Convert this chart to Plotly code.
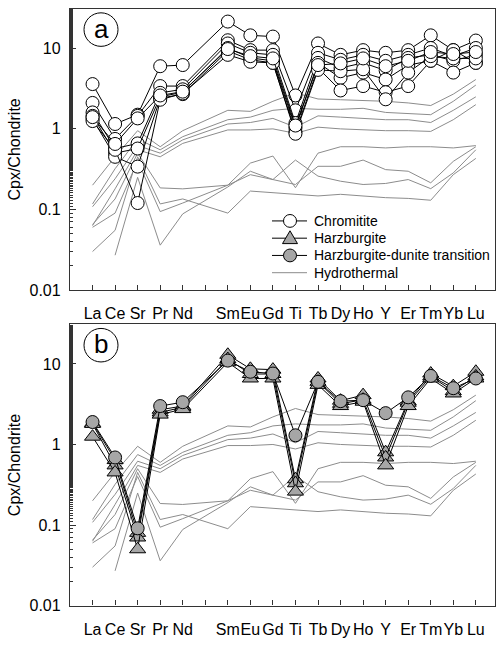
import plotly.graph_objects as go

# ---------------- data ----------------
elements = ["La", "Ce", "Sr", "Pr", "Nd", "Pm", "Sm", "Eu", "Gd", "Ti",
            "Tb", "Dy", "Ho", "Y", "Er", "Tm", "Yb", "Lu"]
tick_labels = ["La", "Ce", "Sr", "Pr", "Nd", "", "Sm", "Eu", "Gd", "Ti",
               "Tb", "Dy", "Ho", "Y", "Er", "Tm", "Yb", "Lu"]
x_pos = list(range(1, 19))

# Chromitite (panel a)
chr_1 = [3.6, 1.15, 1.5, 6.0, 6.2, None, 21.5, 14.5, 14.0, 2.6, 11.5, 8.3, 9.5, 8.8, 9.5, 14.5, 9.5, 12.5]
chr_2 = [2.1, 0.75, 1.45, 3.4, 3.4, None, 12.6, 9.5, 9.5, 1.7, 8.8, 7.2, 8.3, 7.0, 8.3, 10.1, 8.0, 10.1]
chr_3 = [1.6, 0.57, 0.66, 2.8, 3.1, None, 11.5, 8.8, 8.3, 1.18, 7.6, 5.7, 6.6, 5.3, 7.6, 8.3, 7.0, 8.3]
chr_4 = [1.45, 0.5, 0.57, 2.5, 2.85, None, 10.1, 7.6, 7.0, 1.03, 6.6, 4.3, 5.0, 4.1, 6.2, 7.0, 9.5, 6.6]
chr_5 = [1.33, 0.45, 0.34, 2.4, 2.7, None, 9.3, 7.2, 6.6, 0.92, 5.7, 3.0, 3.4, 2.85, 3.4, 7.0, 5.0, 6.6]
chr_6 = [1.25, 0.55, 0.12, 2.3, 2.75, None, 8.3, 6.8, 6.6, 0.87, 5.4, 5.2, 5.5, 2.33, 5.0, 8.0, 7.5, 7.5]
chr_7 = [1.4, 0.65, 1.35, 2.6, 2.9, None, 9.8, 8.0, 7.5, 1.1, 6.2, 6.5, 7.5, 6.0, 7.0, 9.0, 8.5, 9.0]
chromitite = [chr_1, chr_2, chr_3, chr_4, chr_5, chr_6, chr_7]

# Harzburgite (panel b)
hz_1 = [1.85, 0.64, 0.08, 2.7, 3.0, None, 13.0, 8.7, 8.5, 0.37, 6.6, 3.5, 4.1, 0.8, 3.45, 7.6, 5.3, 8.0]
hz_2 = [1.8, 0.55, 0.07, 2.5, 2.9, None, 11.5, 7.5, 7.5, 0.33, 6.0, 3.2, 3.6, 0.69, 3.3, 7.0, 4.6, 7.0]
hz_3 = [1.25, 0.45, 0.05, 2.35, 2.75, None, 10.5, 6.6, 6.6, 0.26, 5.5, 3.0, 3.4, 0.55, 3.0, 6.6, 4.3, 6.6]
harzburgite = [hz_1, hz_2, hz_3]

# Harzburgite-dunite transition (panel b)
hdt_1 = [1.9, 0.69, 0.091, 3.0, 3.35, None, 11.0, 8.0, 7.6, 1.3, 6.0, 3.45, 3.55, 2.45, 3.85, 7.1, 5.0, 6.6]
transition = [hdt_1]

# Hydrothermal (both panels)
hyd_1 = [0.2, 0.45, 0.95, 0.6, 0.95, None, 1.7, 1.65, 2.2, 2.8, 2.35, 2.3, 2.25, 2.2, 2.1, 1.95, 2.7, 4.1]
hyd_2 = [0.117, 0.32, 0.75, 0.55, 0.8, None, 1.3, 1.4, 1.7, 1.8, 1.75, 1.75, 1.8, 1.6, 1.55, 1.5, 2.2, 3.5]
hyd_3 = [0.108, 0.24, 0.62, 0.5, 0.73, None, 1.15, 1.2, 1.35, 1.05, 1.45, 1.4, 1.35, 1.3, 1.3, 1.2, 1.7, 2.5]
hyd_4 = [0.063, 0.18, 0.55, 0.45, 0.66, None, 0.97, 0.97, 1.0, 0.88, 1.05, 1.0, 0.97, 0.95, 0.95, 0.93, 1.3, 2.0]
hyd_5 = [0.065, 0.135, 0.5, 0.185, 0.18, None, 0.2, 0.376, 0.46, 0.186, 0.5, 0.6, 0.6, 0.58, 0.6, 0.6, 0.58, 0.62]
hyd_6 = [0.03, 0.055, 0.45, 0.117, 0.135, None, 0.09, 0.169, 0.161, 0.154, 0.147, 0.154, 0.147, 0.14, 0.137, 0.13, 0.27, 0.43]
hyd_7 = [None, 0.027, 0.25, 0.036, 0.088, None, 0.19, 0.298, 0.235, 0.41, 0.259, 0.224, 0.204, 0.21, 0.235, 0.181, 0.284, 0.55]
hyd_8 = [0.06, 0.09, 0.4, 0.094, 0.12, None, 0.2, 0.27, 0.235, 0.204, 0.343, 0.343, 0.41, 0.312, 0.298, 0.214, 0.395, 0.6]
hydrothermal = [hyd_1, hyd_2, hyd_3, hyd_4, hyd_5, hyd_6, hyd_7, hyd_8]

legend_names = ["Chromitite", "Harzburgite", "Harzburgite-dunite transition", "Hydrothermal"]

# ---------------- styles ----------------
W, H = 499, 655
FONT = "Liberation Sans, Arial, sans-serif"
HYD_COLOR = "#8c8c8c"
GRAY_FILL = "#a6a6a6"
fig = go.Figure()

def add_hydro(xa, ya):
    for s in hydrothermal:
        fig.add_trace(go.Scatter(
            x=x_pos, y=s, xaxis=xa, yaxis=ya, mode="lines", connectgaps=True,
            line=dict(color=HYD_COLOR, width=1), name=legend_names[3],
            showlegend=False, hoverinfo="skip"))

add_hydro("x", "y")
for s in chromitite:
    fig.add_trace(go.Scatter(
        x=x_pos, y=s, xaxis="x", yaxis="y", mode="lines+markers", connectgaps=True,
        line=dict(color="black", width=1),
        marker=dict(symbol="circle", size=13, color="white", line=dict(color="black", width=1)),
        name=legend_names[0], showlegend=False))

add_hydro("x2", "y2")
for s in harzburgite:
    fig.add_trace(go.Scatter(
        x=x_pos, y=s, xaxis="x2", yaxis="y2", mode="lines+markers", connectgaps=True,
        line=dict(color="black", width=1),
        marker=dict(symbol="triangle-up", size=14, color=GRAY_FILL, line=dict(color="black", width=1)),
        name=legend_names[1], showlegend=False))
for s in transition:
    fig.add_trace(go.Scatter(
        x=x_pos, y=s, xaxis="x2", yaxis="y2", mode="lines+markers", connectgaps=True,
        line=dict(color="black", width=1),
        marker=dict(symbol="circle", size=13, color=GRAY_FILL, line=dict(color="black", width=1)),
        name=legend_names[2], showlegend=False))

def px_x(p):
    return p / W

def px_y(p):
    return 1 - p / H

x_dom = [px_x(70), px_x(495)]
ya_dom = [px_y(294), px_y(9)]
yb_dom = [px_y(614), px_y(329)]

xax = dict(range=[0, 18.85], tickmode="array", tickvals=x_pos, ticktext=tick_labels,
           tickangle=0, ticklabelstandoff=9,
           ticks="inside", ticklen=5, tickcolor="#333", tickwidth=1,
           showline=True, mirror=True, linecolor="#333", linewidth=1.3,
           showgrid=False, zeroline=False,
           tickfont=dict(family=FONT, size=16, color="black"))
yax = dict(type="log", range=[-2, 1.49], tickmode="array",
           tickvals=[0.01, 0.1, 1, 10], ticktext=["0.01", "0.1", "1", "10"],
           ticks="inside", ticklen=6, tickcolor="#333", ticklabelstandoff=5,
           minor=dict(ticks="inside", ticklen=3, tickcolor="#333", showgrid=False),
           showline=True, mirror=True, linecolor="#333", linewidth=1.3,
           showgrid=False, zeroline=False,
           tickfont=dict(family=FONT, size=16, color="black"),
           title=dict(text="Cpx/Chondrite", font=dict(family=FONT, size=16, color="black"), standoff=4))

fig.update_layout(
    width=W, height=H, autosize=False,
    margin=dict(l=0, r=0, t=0, b=0),
    paper_bgcolor="white", plot_bgcolor="white",
    font=dict(family=FONT, color="black"),
    xaxis=dict(xax, domain=x_dom, anchor="y"),
    yaxis=dict(yax, domain=ya_dom, anchor="x"),
    xaxis2=dict(xax, domain=x_dom, anchor="y2"),
    yaxis2=dict(yax, domain=yb_dom, anchor="x2"),
    showlegend=False,
)

# ---------------- legend (drawn as layout shapes + text) ----------------
leg_rows = [224, 241.5, 259, 276.5]
leg_x0, leg_x1, leg_mx, leg_tx = 272, 307, 290, 312
leg_kinds = ["open_circle", "triangle", "gray_circle", "line"]
for name, kind, ry in zip(legend_names, leg_kinds, leg_rows):
    lcolor = HYD_COLOR if kind == "line" else "black"
    fig.add_shape(type="line", xref="paper", yref="paper",
                  x0=px_x(leg_x0), x1=px_x(leg_x1), y0=px_y(ry), y1=px_y(ry),
                  line=dict(color=lcolor, width=1))
    if kind in ("open_circle", "gray_circle"):
        r = 6.5
        fig.add_shape(type="circle", xref="paper", yref="paper",
                      x0=px_x(leg_mx - r), x1=px_x(leg_mx + r),
                      y0=px_y(ry + r), y1=px_y(ry - r),
                      fillcolor="white" if kind == "open_circle" else GRAY_FILL,
                      line=dict(color="black", width=1))
    elif kind == "triangle":
        hw, top, bot = 7.5, ry - 7.5, ry + 5.5
        path = "M {} {} L {} {} L {} {} Z".format(
            px_x(leg_mx - hw), px_y(bot), px_x(leg_mx + hw), px_y(bot), px_x(leg_mx), px_y(top))
        fig.add_shape(type="path", xref="paper", yref="paper", path=path,
                      fillcolor=GRAY_FILL, line=dict(color="black", width=1))
    fig.add_annotation(text=name, xref="paper", yref="paper", x=px_x(leg_tx), y=px_y(ry),
                       xanchor="left", yanchor="middle", showarrow=False,
                       font=dict(family=FONT, size=14, color="black"))

# circled panel letters
for letter, cx, cy in [("a", 101, 30), ("b", 101, 350)]:
    r = 17
    fig.add_shape(type="circle", xref="paper", yref="paper",
                  x0=px_x(cx - r), x1=px_x(cx + r), y0=px_y(cy + r), y1=px_y(cy - r),
                  line=dict(color="black", width=1), fillcolor="white", layer="above")
    fig.add_annotation(text=letter, xref="paper", yref="paper", x=px_x(cx), y=px_y(cy - 1),
                       showarrow=False, font=dict(family=FONT, size=26, color="black"),
                       xanchor="center", yanchor="middle")

fig.write_html("out.html")
